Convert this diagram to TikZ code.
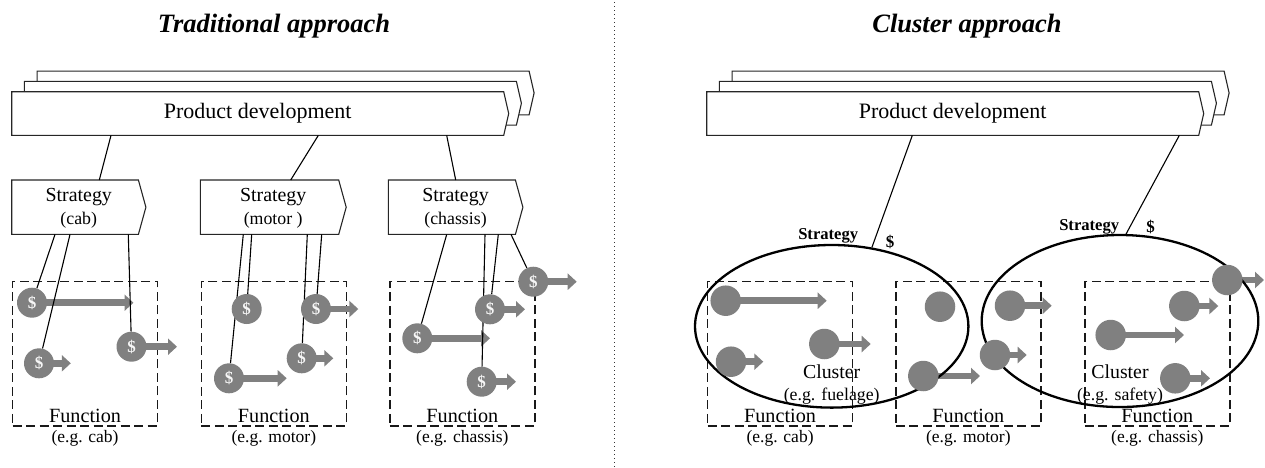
\documentclass[tikz,border=0pt]{standalone}
\usepackage{fontspec}
\setmainfont{Liberation Serif}
\usetikzlibrary{arrows.meta,calc,shapes.geometric}
\definecolor{flowgrey}{RGB}{128,128,128}
\pgfdeclarelayer{boxes}
\pgfdeclarelayer{flows}
\pgfdeclarelayer{links}
\pgfsetlayers{boxes,flows,links,main}
\newcommand\fs[1]{\fontsize{#1}{#1}\selectfont}
% outline of a box whose right side ends in a shallow point
\newcommand\tabshape[2]{%
  \draw[outline] (#1.north west) -- (#1.north east) -- ([xshift=#2]#1.east)
    -- (#1.south east) -- (#1.south west) -- cycle;}
% strategy box: name, left, top, width, subtitle
\newcommand\strategybox[5]{%
  \node[stratbox, minimum width=#4pt] (#1) at (#2,#3) {};
  \node[anchor=base, font=\fs{19.9}] (#1-a) at ([xshift=3.7pt,yshift=-21.7pt]#1.north) {Strategy};
  \node[anchor=base, font=\fs{17.8}] (#1-b) at ([xshift=3.7pt,yshift=-44pt]#1.north) {#5};
  \begin{pgfonlayer}{boxes}\tabshape{#1}{7.5pt}\end{pgfonlayer}}
% dashed function box: name, left, top, subtitle
\newcommand\functionbox[4]{%
  \begin{pgfonlayer}{boxes}\node[funcbox] (#1) at (#2,#3) {};\end{pgfonlayer}
  \node[anchor=base, font=\fs{20.2}] (#1-a) at ([yshift=4.3pt]#1.south) {Function};
  \node[anchor=base, font=\fs{17.5}] (#1-b) at ([yshift=-16pt]#1.south) {#4};}
\begin{document}
\begin{tikzpicture}[x=1pt,y=-1pt,
  outline/.style={draw=black!85, line width=1.1pt, fill=white},
  panel/.style={minimum width=491.6pt, minimum height=43.3pt, inner sep=0pt, anchor=north west},
  stratbox/.style={minimum height=54pt, inner sep=0pt, anchor=north west},
  funcbox/.style={draw=black!90, line width=1.7pt, dash pattern=on 9pt off 4.5pt,
    minimum width=145pt, minimum height=144.5pt, inner sep=0pt, anchor=north west},
  link/.style={draw=black, line width=1.1pt},
  flow/.style={draw=flowgrey, line width=6.5pt, -{Triangle[length=9pt,width=16pt]}},
  coin/.style={circle, fill=flowgrey, minimum size=30pt, inner sep=0pt,
    text=white!93!flowgrey, font=\bfseries\fs{17}},
  dot/.style={circle, fill=flowgrey, minimum size=30.5pt, inner sep=0pt},
  cluster/.style={ellipse, draw=black, line width=2.3pt, inner sep=0pt},
  title/.style={anchor=base, font=\bfseries\itshape\fs{26.5}},
  ]
\useasboundingbox (0,0) rectangle (1265,467);

% ---------- titles and divider ----------
\node[title] (titleL) at (274,32.3) {Traditional approach};
\node[title] (titleR) at (967,32.3) {Cluster approach};
\coordinate (divtop) at (614,2);
\coordinate (divbot) at (614,467);
\draw[black!80, line width=1pt, dash pattern=on 1pt off 3pt] (divtop) -- (divbot);

% ---------- traditional approach ----------
\node[panel] (pdL3) at (37.1,71.1) {};
\node[panel] (pdL2) at (24.4,81.4) {};
\node[panel, font=\fs{22}] (pdL) at (11.7,91.7) {Product development};
\begin{pgfonlayer}{boxes}
  \tabshape{pdL3}{5pt}\tabshape{pdL2}{5pt}\tabshape{pdL}{5pt}
\end{pgfonlayer}

\strategybox{stcab}{11.7}{180}{126.3}{(cab)}
\strategybox{stmotor}{200.3}{180}{138}{(motor )}
\strategybox{stchassis}{388.3}{180}{126.7}{(chassis)}

\functionbox{fcab}{11.7}{280.5}{(e.g. cab)}
\functionbox{fmotor}{200.5}{280.5}{(e.g. motor)}
\functionbox{fchassis}{389}{280.5}{(e.g. chassis)}

\node[coin] (c1) at (32,302.7) {\$};
\node[coin] (c2) at (39,363.3) {\$};
\node[coin] (c3) at (131.5,346.7) {\$};
\node[coin] (m1) at (246.7,309) {\$};
\node[coin] (m2) at (316,309) {\$};
\node[coin] (m3) at (301.7,358.3) {\$};
\node[coin] (m4) at (229,378.3) {\$};
\node[coin] (h1) at (417.3,338.3) {\$};
\node[coin] (h2) at (490,309.3) {\$};
\node[coin] (h3) at (481.7,381.7) {\$};
\node[coin] (h4) at (533.3,281.7) {\$};

\begin{pgfonlayer}{links}
  \draw[link] ([xshift=99.3pt]pdL.south west) -- ([xshift=87.6pt]stcab.north west);
  \draw[link] ([xshift=306.6pt]pdL.south west) -- ([xshift=90.4pt]stmotor.north west);
  \draw[link] ([xshift=435pt]pdL.south west) -- ([xshift=67.4pt]stchassis.north west);
  \draw[link] ([xshift=43.3pt]stcab.south west) -- (c1);
  \draw[link] ([xshift=58.3pt]stcab.south west) -- (c2);
  \draw[link] ([xshift=116.6pt]stcab.south west) -- (c3);
  \draw[link] ([xshift=43pt]stmotor.south west) -- (m4);
  \draw[link] ([xshift=51.4pt]stmotor.south west) -- (m1);
  \draw[link] ([xshift=107pt]stmotor.south west) -- (m3);
  \draw[link] ([xshift=121.4pt]stmotor.south west) -- (m2);
  \draw[link] ([xshift=58.4pt]stchassis.south west) -- (h1);
  \draw[link] ([xshift=96.7pt]stchassis.south west) -- (h3);
  \draw[link] ([xshift=110pt]stchassis.south west) -- (h2);
  \draw[link] ([xshift=122.7pt]stchassis.south west) -- (h4);
\end{pgfonlayer}

% ---------- cluster approach ----------
\node[panel] (pdR3) at (732.1,71.1) {};
\node[panel] (pdR2) at (719.4,81.4) {};
\node[panel, font=\fs{22}] (pdR) at (706.7,91.7) {Product development};
\begin{pgfonlayer}{boxes}
  \tabshape{pdR3}{5pt}\tabshape{pdR2}{5pt}\tabshape{pdR}{5pt}
\end{pgfonlayer}

\functionbox{gcab}{706.7}{280.5}{(e.g. cab)}
\functionbox{gmotor}{895}{280.5}{(e.g. motor)}
\functionbox{gchassis}{1084}{280.5}{(e.g. chassis)}

\node[cluster, minimum width=273.4pt, minimum height=162.6pt] (ellL) at (831.7,326.3) {};
\node[cluster, minimum width=276.6pt, minimum height=172pt] (ellR) at (1120,321) {};

\node[anchor=base, font=\fs{19.8}] (clL-a) at (831.7,378.3) {Cluster};
\node[anchor=base, font=\fs{17.8}] (clL-b) at (831.7,400) {(e.g. fuelage)};
\node[anchor=base, font=\fs{19.8}] (clR-a) at (1120,378.3) {Cluster};
\node[anchor=base, font=\fs{17.8}] (clR-b) at (1120,400) {(e.g. safety)};

\node[anchor=base east, font=\bfseries\fs{16.6}] (sgL) at (861.7,239.5) {Strategy};
\node[anchor=base, font=\bfseries\fs{17}] (sgLd) at (890,247) {\$};
\node[anchor=base east, font=\bfseries\fs{16.6}] (sgR) at (1122.7,230) {Strategy};
\node[anchor=base, font=\bfseries\fs{17}] (sgRd) at (1150.7,232) {\$};

\begin{pgfonlayer}{links}
  \draw[link] ([xshift=205.6pt]pdR.south west) -- (ellL.63);
  \draw[link] ([xshift=472.6pt]pdR.south west) -- (ellR.86);
\end{pgfonlayer}

\node[dot] (r1) at (725.7,300.7) {};
\node[dot] (r2) at (731,361.7) {};
\node[dot] (r3) at (824.3,344) {};
\node[dot] (r4) at (940,306.7) {};
\node[dot] (r5) at (923.3,376) {};
\node[dot] (r6) at (1010,305.7) {};
\node[dot] (r7) at (995,355) {};
\node[dot] (r8) at (1110.7,335) {};
\node[dot] (r9) at (1184.3,306) {};
\node[dot] (r10) at (1175.3,378.3) {};
\node[dot] (r11) at (1227.3,280) {};

% ---------- value flows ----------
\begin{pgfonlayer}{flows}
  \foreach \n/\l in {c1/101.5, c2/31.8, c3/45.5, m2/42.3, m3/31.6, m4/57.7,
                     h1/72.7, h2/35, h3/34.3, h4/43.4,
                     r1/101, r2/32.3, r3/46.4, r5/56.7, r6/41.7, r7/31.7,
                     r8/73.3, r9/34, r10/34.7, r11/36.7}
    \draw[flow] (\n.center) -- ++(\l,0);
\end{pgfonlayer}
\end{tikzpicture}
\end{document}
